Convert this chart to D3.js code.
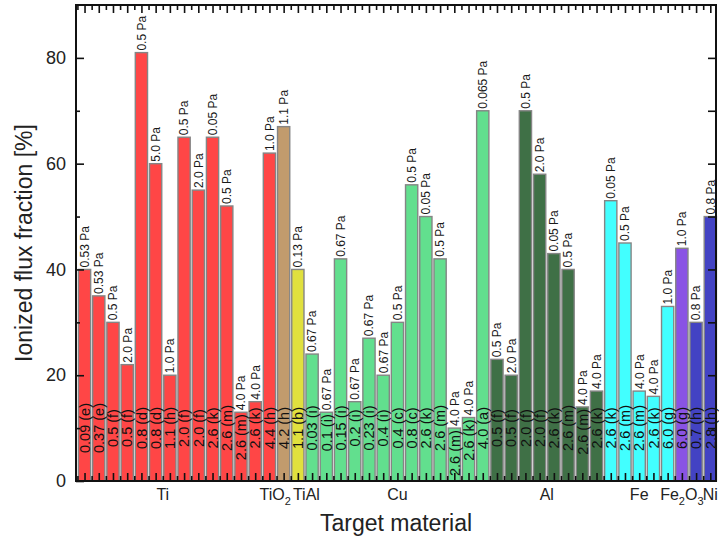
<!DOCTYPE html>
<html>
<head>
<meta charset="utf-8">
<script src="https://cdn.jsdelivr.net/npm/d3@7/dist/d3.min.js"></script>
<style>
  html, body { margin: 0; padding: 0; background: #fff; }
  svg { display: block; font-family: "Liberation Sans", Arial, Helvetica, sans-serif; }
</style>
</head>
<body>
<svg id="chart" width="719" height="539"></svg>
<script>
// Target material of each bar, left to right
const materials = [
  "Ti","Ti","Ti","Ti","Ti","Ti","Ti","Ti","Ti","Ti","Ti","Ti","Ti","Ti",
  "TiO2","TiAl",
  "Cu","Cu","Cu","Cu","Cu","Cu","Cu","Cu","Cu","Cu","Cu","Cu","Cu",
  "Al","Al","Al","Al","Al","Al","Al","Al",
  "Fe","Fe","Fe","Fe","Fe",
  "Fe2O3",
  "Ni","Ni"
];
// Ionized flux fraction [%]
const fractions = [
  40, 35, 30, 22, 81, 60, 20, 65, 55, 65, 52, 13, 15, 62,
  67, 40,
  24, 13, 42, 15, 27, 20, 30, 56, 50, 42, 10, 12, 70,
  23, 20, 70, 58, 43, 40, 14, 17,
  53, 45, 17, 16, 33,
  44,
  30, 50
];
// Peak power density value written at the foot of each bar
const powers = [
  "0.09","0.37","0.5","0.5","0.8","0.8","1.1","2.0","2.0","2.6","2.6","2.6","2.6","4.4",
  "4.2","1.1",
  "0.03","0.1","0.15","0.2","0.23","0.4","0.4","0.8","2.6","2.6","2.6","2.6","4.0",
  "0.5","0.5","2.0","2.0","2.6","2.6","2.6","2.6",
  "2.6","2.6","2.6","2.6","6.0",
  "6.0",
  "0.7","2.8"
];
// Source reference letter
const refs = [
  "e","e","f","f","d","d","h","f","f","k","m","m","k","h",
  "h","b",
  "i","i","i","i","i","i","c","c","k","m","m","k","a",
  "f","f","f","f","k","m","m","k",
  "k","m","m","k","g",
  "g",
  "h","h"
];
// Working gas pressure written above each bar
const pressures = [
  "0.53","0.53","0.5","2.0","0.5","5.0","1.0","0.5","2.0","0.05","0.5","4.0","4.0","1.0",
  "1.1","0.13",
  "0.67","0.67","0.67","0.67","0.67","0.67","0.5","0.5","0.05","0.5","4.0","4.0","0.065",
  "0.5","2.0","0.5","2.0","0.05","0.5","4.0","4.0",
  "0.05","0.5","4.0","4.0","1.0",
  "1.0",
  "0.8","0.8"
];
// Material labels on the x axis and the bar slot they sit under
const groupNames = ["Ti", "TiO2", "TiAl", "Cu", "Al", "Fe", "Fe2O3", "Ni"];
const groupSlots = [5.5, 13.4, 15.6, 22, 32.5, 39, 42, 44];
const yTicks = [0, 20, 40, 60, 80];

const colors = {
  "Ti": "#ff4646", "TiO2": "#c19b6d", "TiAl": "#e0e03e", "Cu": "#62df8e",
  "Al": "#3f7046", "Fe": "#42ffff", "Fe2O3": "#8953e4", "Ni": "#4343c3"
};

const svg = d3.select("#chart");
const m = { left: 76, right: 716, top: 5, bottom: 481 };
const n = fractions.length;

const x = d3.scaleLinear().domain([-0.6, n - 0.6]).range([m.left, m.right]);
const step = x(1) - x(0);
const barW = step * 0.86;
const y = d3.scaleLinear().domain([0, 90]).range([m.bottom, m.top]);

const data = fractions.map((v, i) => ({
  i, v, mat: materials[i], power: powers[i], ref: refs[i], p: pressures[i]
}));

// bars
svg.append("g").selectAll("rect").data(data).join("rect")
  .attr("x", d => x(d.i) - barW / 2)
  .attr("y", d => y(d.v))
  .attr("width", barW)
  .attr("height", d => y(0) - y(d.v))
  .attr("fill", d => colors[d.mat])
  .attr("stroke", "#858585")
  .attr("stroke-width", 1.4);

// pressure labels above bars
svg.append("g").selectAll("text").data(data).join("text")
  .attr("transform", d => `translate(${x(d.i)},${y(d.v) - 2}) rotate(-90)`)
  .attr("dy", "0.36em")
  .attr("font-size", 12)
  .attr("fill", "#1a1a1a")
  .text(d => `${d.p} Pa`);

// power / reference labels inside the foot of each bar
const foot = svg.append("g").selectAll("text").data(data).join("text")
  .attr("text-anchor", "middle")
  .attr("dy", "0.36em")
  .attr("font-size", 14.5)
  .attr("fill", "#111")
  .text(d => `${d.power} (${d.ref})`);
foot.each(function (d) {
  const half = this.getComputedTextLength() / 2;
  const cy = Math.max(428, y(d.v) + 2 + half);
  d3.select(this).attr("transform", `translate(${x(d.i)},${cy}) rotate(-90)`);
});

// axes drawn on top of the bars
const major = d3.range(n);
const minor = d3.range(n + 1).map(k => k - 0.5).filter(v => v > -0.6 && v < n - 0.6);

function frameAxis(axisFn, scale, values, size, at) {
  const g = svg.append("g")
    .attr("transform", at)
    .call(axisFn(scale).tickValues(values).tickSize(size).tickFormat(""));
  g.select(".domain").remove();
  g.selectAll("line").attr("stroke", "#111").attr("stroke-width", 1.6);
  return g;
}

frameAxis(d3.axisBottom, x, major, -8, `translate(0,${m.bottom})`);
frameAxis(d3.axisBottom, x, minor, -5, `translate(0,${m.bottom})`);
frameAxis(d3.axisTop, x, major, -8, `translate(0,${m.top})`);
frameAxis(d3.axisTop, x, minor, -5, `translate(0,${m.top})`);
frameAxis(d3.axisRight, y, d3.range(10, 90, 10), -8, `translate(${m.right},0)`);
frameAxis(d3.axisLeft, y, [10, 30, 50, 70], -4, `translate(${m.left},0)`);

const left = svg.append("g")
  .attr("transform", `translate(${m.left},0)`)
  .call(d3.axisLeft(y).tickValues(yTicks).tickSize(-8).tickPadding(10));
left.select(".domain").remove();
left.selectAll("line").attr("stroke", "#111").attr("stroke-width", 1.6);
left.selectAll("text").attr("font-size", 18).attr("fill", "#222")
  .attr("font-family", "'Liberation Sans', Arial, sans-serif");

// plot frame
svg.append("rect")
  .attr("x", m.left).attr("y", m.top)
  .attr("width", m.right - m.left).attr("height", m.bottom - m.top)
  .attr("fill", "none").attr("stroke", "#111").attr("stroke-width", 2);

// material names under the axis, chemical digits as subscripts
const gl = svg.append("g").attr("font-size", 16).attr("fill", "#222");
groupNames.forEach((name, k) => {
  const t = gl.append("text")
    .attr("x", x(groupSlots[k]))
    .attr("y", 500)
    .attr("text-anchor", "middle");
  name.split(/(\d)/).filter(s => s.length).forEach(part => {
    if (/\d/.test(part)) {
      t.append("tspan").attr("font-size", 11).attr("dy", 5).text(part);
    } else {
      const ts = t.append("tspan").text(part);
      if (t.selectAll("tspan").size() > 1) ts.attr("dy", -5);
    }
  });
});

// axis titles
svg.append("text")
  .attr("x", (m.left + m.right) / 2)
  .attr("y", 531)
  .attr("text-anchor", "middle")
  .attr("font-size", 23)
  .attr("fill", "#222")
  .text("Target material");

svg.append("text")
  .attr("transform", `translate(24,${(m.top + m.bottom) / 2}) rotate(-90)`)
  .attr("text-anchor", "middle")
  .attr("dy", "0.35em")
  .attr("font-size", 23)
  .attr("fill", "#222")
  .text("Ionized flux fraction [%]");
</script>
</body>
</html>
